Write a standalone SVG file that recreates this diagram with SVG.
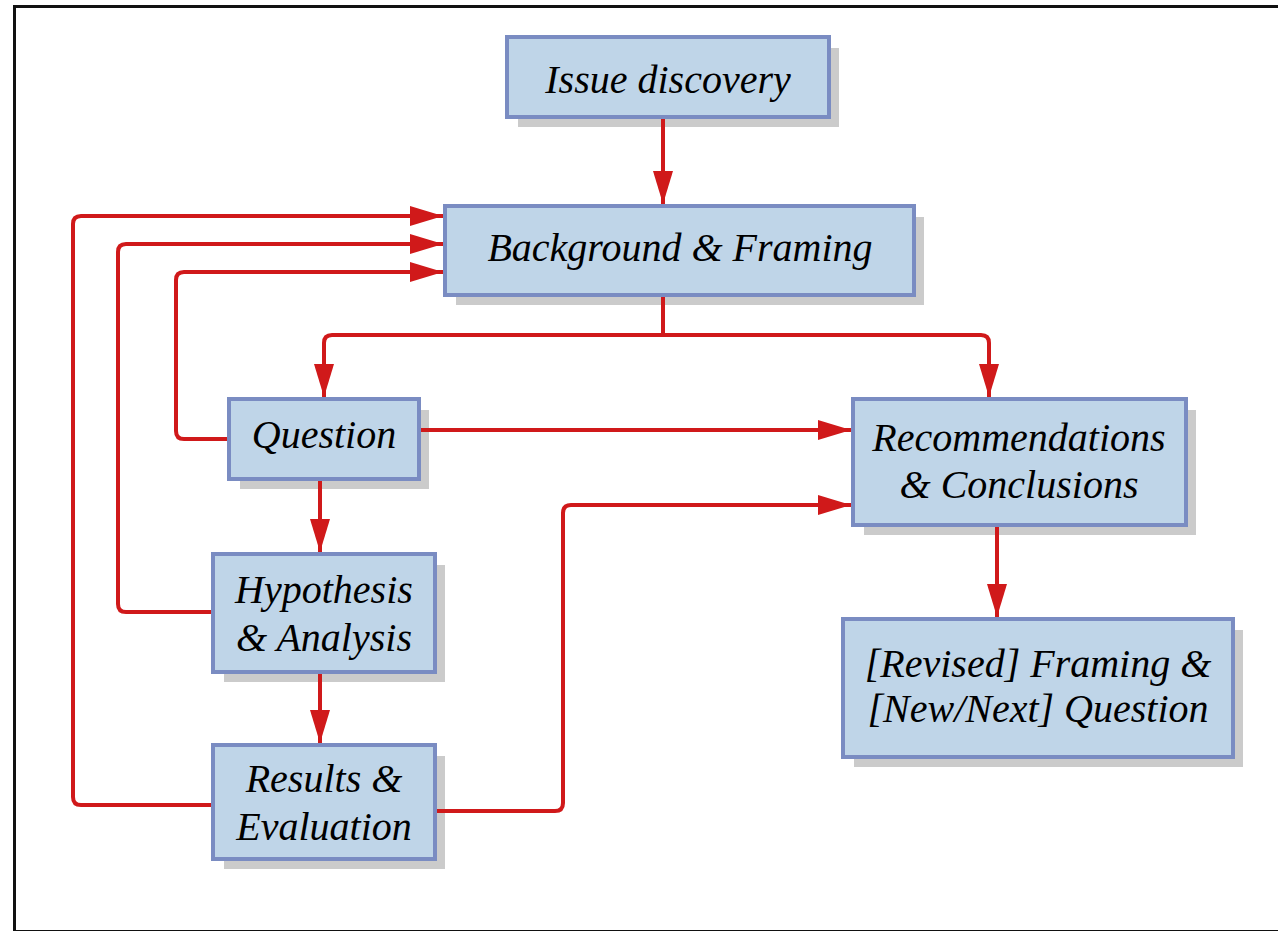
<svg xmlns="http://www.w3.org/2000/svg" width="1278" height="931" viewBox="0 0 1278 931">
<style>
.frame{fill:#ffffff;stroke:#111111;stroke-width:3}
.shadow{fill:#cbcbcb}
.box{fill:#bfd5e8;stroke:#7a8cc2;stroke-width:4}
.lbl{font-family:"Liberation Serif","Times New Roman",serif;font-style:italic;font-size:40px;fill:#000000;text-anchor:middle}
.conn{fill:none;stroke:#d0191a;stroke-width:4;stroke-linejoin:round}
</style>
<defs>
<marker id="ah" markerUnits="userSpaceOnUse" markerWidth="34" markerHeight="20" refX="33" refY="10" orient="auto">
<path d="M0,0 L33,10 L0,20 Z" fill="#d0191a"/>
</marker>
</defs>
<rect class="frame" x="14.5" y="6.5" width="1290" height="925"/>

<g id="issue">
<rect class="shadow" x="518" y="48" width="321" height="79"/>
<rect class="box" x="507" y="37" width="322" height="80"/>
<text class="lbl" x="668" y="93">Issue discovery</text>
</g>

<g id="background">
<rect class="shadow" x="456" y="217" width="468" height="88"/>
<rect class="box" x="445" y="206" width="469" height="89"/>
<text class="lbl" x="680" y="261">Background &amp; Framing</text>
</g>

<g id="question">
<rect class="shadow" x="240" y="410" width="189" height="79"/>
<rect class="box" x="229" y="399" width="190" height="80"/>
<text class="lbl" x="324" y="448">Question</text>
</g>

<g id="recommendations">
<rect class="shadow" x="864" y="410" width="332" height="125"/>
<rect class="box" x="853" y="399" width="333" height="126"/>
<text class="lbl" x="1019" y="451">Recommendations</text>
<text class="lbl" x="1019" y="498">&amp; Conclusions</text>
</g>

<g id="hypothesis">
<rect class="shadow" x="224" y="565" width="221" height="117"/>
<rect class="box" x="213" y="554" width="222" height="118"/>
<text class="lbl" x="324" y="603">Hypothesis</text>
<text class="lbl" x="324" y="651">&amp; Analysis</text>
</g>

<g id="results">
<rect class="shadow" x="224" y="756" width="221" height="113"/>
<rect class="box" x="213" y="745" width="222" height="114"/>
<text class="lbl" x="324" y="792">Results &amp;</text>
<text class="lbl" x="324" y="840">Evaluation</text>
</g>

<g id="revised">
<rect class="shadow" x="854" y="630" width="389" height="137"/>
<rect class="box" x="843" y="619" width="390" height="138"/>
<text class="lbl" x="1038" y="677">[Revised] Framing &amp;</text>
<text class="lbl" x="1038" y="722">[New/Next] Question</text>
</g>

<g id="connectors">
<path class="conn" d="M663,119 V204" marker-end="url(#ah)"/>
<path class="conn" d="M663,297 V335 H332 Q324,335 324,343 V397" marker-end="url(#ah)"/>
<path class="conn" d="M663,335 H981 Q989,335 989,343 V397" marker-end="url(#ah)"/>
<path class="conn" d="M227,439 H184 Q176,439 176,431 V280 Q176,272 184,272 H443" marker-end="url(#ah)"/>
<path class="conn" d="M211,612 H126 Q118,612 118,604 V252 Q118,244 126,244 H443" marker-end="url(#ah)"/>
<path class="conn" d="M211,805 H81 Q73,805 73,797 V224 Q73,216 81,216 H443" marker-end="url(#ah)"/>
<path class="conn" d="M421,430 H851" marker-end="url(#ah)"/>
<path class="conn" d="M437,811 H555 Q563,811 563,803 V513 Q563,505 571,505 H851" marker-end="url(#ah)"/>
<path class="conn" d="M320,481 V552" marker-end="url(#ah)"/>
<path class="conn" d="M320,674 V743" marker-end="url(#ah)"/>
<path class="conn" d="M997,527 V617" marker-end="url(#ah)"/>
</g>
</svg>
